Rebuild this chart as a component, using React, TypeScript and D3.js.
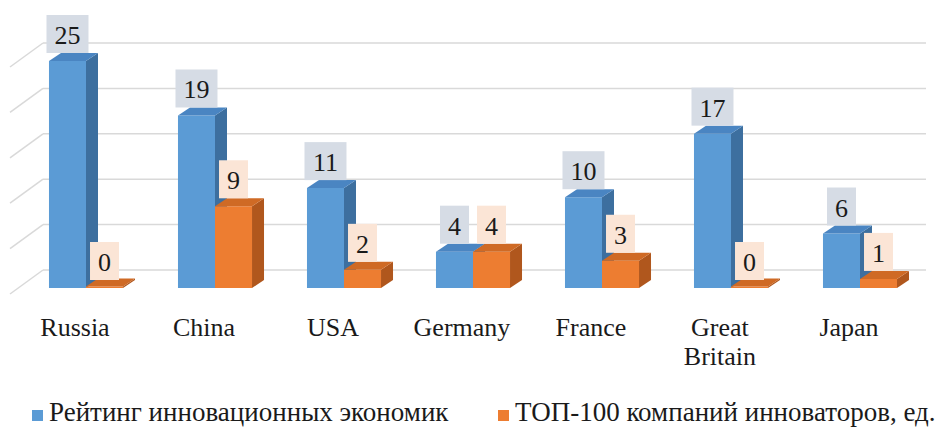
import React from "react";
import * as d3 from "d3";

const categories = ["Russia", "China", "USA", "Germany", "France", "Great Britain", "Japan"];
const ratingValues = [25, 19, 11, 4, 10, 17, 6];
const top100Values = [0, 9, 2, 4, 3, 0, 1];
const gridTicks = [0, 5, 10, 15, 20, 25];
const seriesNames = ["Рейтинг инновационных экономик", "ТОП-100 компаний инноваторов, ед."];

const W = 939;
const H = 428;
const FONT = "Liberation Serif, DejaVu Serif, Times New Roman, serif";

const DX = 12;
const DY = -8;

const series = [
  { key: "a", name: seriesNames[0], values: ratingValues, front: "#5b9bd5", top: "#4a85c2", side: "#3d6f9f", label: "#d6dce5" },
  { key: "b", name: seriesNames[1], values: top100Values, front: "#ed7d31", top: "#cf6a25", side: "#b0571d", label: "#fbe5d6" },
];

const textStyle: React.CSSProperties = { fontFamily: FONT };

export default function App() {
  const x = d3
    .scaleBand<string>()
    .domain(categories)
    .range([21.5, 924.5])
    .paddingInner(0.426)
    .paddingOuter(0.213);
  const xs = d3.scaleBand<string>().domain(["a", "b"]).range([0, x.bandwidth()]).padding(0);
  const y = d3.scaleLinear().domain([0, 25]).range([288, 61]);
  const base = y(0);

  const wallDX = 33;
  const wallBack = -18;
  const floorFront = 6;
  const wallLeft = 43;
  const wallRight = 926;

  const bars: React.ReactNode[] = [];
  const labels: React.ReactNode[] = [];
  categories.forEach((c, i) => {
    series.forEach((s) => {
      const v = s.values[i];
      const x0 = (x(c) as number) + (xs(s.key) as number);
      const w = xs.bandwidth();
      const yt = Math.min(y(v), base - 1.5);
      const front = `M${x0},${yt}L${x0 + w},${yt}L${x0 + w},${base}L${x0},${base}Z`;
      const side = `M${x0 + w},${yt}L${x0 + w + DX},${yt + DY}L${x0 + w + DX},${base + DY}L${x0 + w},${base}Z`;
      const topF = `M${x0},${yt}L${x0 + DX},${yt + DY}L${x0 + w + DX},${yt + DY}L${x0 + w},${yt}Z`;
      bars.push(
        <g key={`${c}-${s.key}`}>
          <path d={side} fill={s.side} />
          <path d={front} fill={s.front} />
          <path d={topF} fill={s.top} />
        </g>
      );
      const txt = String(v);
      const bw = txt.length > 1 ? 42 : 29;
      const cx = x0 + w / 2;
      let bottom = y(v) + DY;
      let top = bottom - 38;
      let baseline = bottom - 9;
      if (top < 13) {
        top = 13;
        bottom = 44;
        baseline = 42;
      }
      labels.push(
        <g key={`l-${c}-${s.key}`}>
          <rect x={cx - bw / 2} y={top} width={bw} height={bottom - top} fill={s.label} />
          <text x={cx} y={baseline} textAnchor="middle" style={textStyle} fontSize={26} fill="#1a1a1a">
            {txt}
          </text>
        </g>
      );
    });
  });

  return (
    <svg width={W} height={H} style={{ position: "absolute", left: 0, top: 0, background: "#fff" }}>
      <g>
        {gridTicks.map((t) => {
          const yb = y(t) + wallBack;
          const yf = y(t) + floorFront;
          return (
            <g key={t}>
              <line x1={wallLeft - wallDX} y1={yf} x2={wallLeft} y2={yb} stroke="#d9d9d9" strokeWidth={1.5} />
              <line x1={wallLeft} y1={yb} x2={wallRight} y2={yb} stroke="#d9d9d9" strokeWidth={1.5} />
            </g>
          );
        })}
      </g>
      <g>{bars}</g>
      <g>{labels}</g>
      <g>
        {categories.map((c) => {
          const cx = (x(c) as number) + 26;
          const parts = c === "Great Britain" ? ["Great", "Britain"] : [c];
          return (
            <text key={c} x={cx} y={336} textAnchor="middle" style={textStyle} fontSize={26} fill="#1a1a1a">
              {parts.map((p, k) => (
                <tspan key={p} x={cx} dy={k === 0 ? 0 : 29}>
                  {p}
                </tspan>
              ))}
            </text>
          );
        })}
      </g>
      <g>
        <rect x={32} y={410} width={11} height={11} fill={series[0].front} />
        <text x={49} y={421} style={textStyle} fontSize={27} fill="#1a1a1a">
          {series[0].name}
        </text>
        <rect x={498} y={410} width={11} height={11} fill={series[1].front} />
        <text x={515} y={421} style={textStyle} fontSize={27} fill="#1a1a1a">
          {series[1].name}
        </text>
      </g>
    </svg>
  );
}
